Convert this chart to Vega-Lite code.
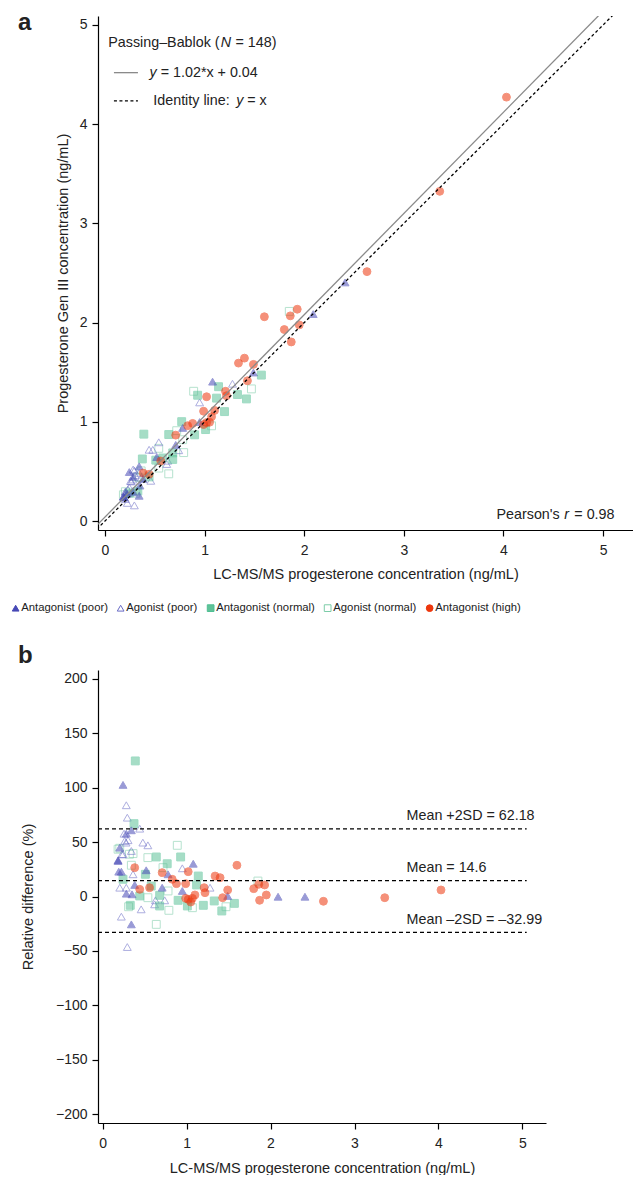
{
"$schema":"https://vega.github.io/schema/vega-lite/v6.json",
"padding":{"left":10,"top":11,"right":0,"bottom":0},
"autosize":{"type":"pad"},
"config":{"font":"Liberation Sans","view":{"stroke":null},
"axis":{"grid":false,"domainColor":"#000","tickColor":"#000","domainWidth":1.2,"tickWidth":1.2,"tickSize":6,"labelFontSize":14,"labelColor":"#222","titleFontSize":14.5,"titleFontWeight":"normal","titleColor":"#222","labelPadding":5},
"text":{"font":"Liberation Sans","fontSize":14.3,"color":"#222","baseline":"middle","align":"left"}},
"spacing":140,"bounds":"flush",
"resolve":{"legend":{"shape":"independent","fill":"independent","stroke":"independent"}},
"datasets":{
"lines":[{"k":"pb","x1":-0.2,"y1":-0.164,"x2":5.3,"y2":5.446},{"k":"id","x1":-0.2,"y1":-0.2,"x2":5.3,"y2":5.3}],
"means":[{"label":"Mean +2SD = 62.18","v":62.18},{"label":"Mean = 14.6","v":14.6},{"label":"Mean –2SD = –32.99","v":-32.99}],
"pts":[
{"g":"Agonist (normal)","lcms":0.205,"gen3":0.296,"rd":44.3},
{"g":"Agonist (normal)","lcms":0.89,"gen3":1.308,"rd":47.0},
{"g":"Agonist (normal)","lcms":0.363,"gen3":0.506,"rd":39.4},
{"g":"Agonist (normal)","lcms":0.54,"gen3":0.733,"rd":35.7},
{"g":"Agonist (normal)","lcms":0.343,"gen3":0.441,"rd":28.7},
{"g":"Agonist (normal)","lcms":0.72,"gen3":0.911,"rd":26.5},
{"g":"Agonist (normal)","lcms":1.85,"gen3":2.113,"rd":14.2},
{"g":"Agonist (normal)","lcms":0.54,"gen3":0.534,"rd":-1.1},
{"g":"Agonist (normal)","lcms":0.78,"gen3":0.820,"rd":5.1},
{"g":"Agonist (normal)","lcms":1.47,"gen3":1.332,"rd":-9.4},
{"g":"Agonist (normal)","lcms":1.07,"gen3":0.960,"rd":-10.3},
{"g":"Agonist (normal)","lcms":0.31,"gen3":0.281,"rd":-9.4},
{"g":"Agonist (normal)","lcms":0.79,"gen3":0.690,"rd":-12.7},
{"g":"Agonist (normal)","lcms":0.64,"gen3":0.476,"rd":-25.6},
{"g":"Agonist (normal)","lcms":0.185,"gen3":0.265,"rd":43.4},
{"g":"Agonist (normal)","lcms":0.32,"gen3":0.444,"rd":38.8},
{"g":"Agonist (poor)","lcms":0.283,"gen3":0.520,"rd":83.8},
{"g":"Agonist (poor)","lcms":0.295,"gen3":0.509,"rd":72.4},
{"g":"Agonist (poor)","lcms":0.256,"gen3":0.404,"rd":57.7},
{"g":"Agonist (poor)","lcms":0.443,"gen3":0.719,"rd":62.3},
{"g":"Agonist (poor)","lcms":0.304,"gen3":0.461,"rd":51.7},
{"g":"Agonist (poor)","lcms":0.264,"gen3":0.399,"rd":51.0},
{"g":"Agonist (poor)","lcms":0.48,"gen3":0.718,"rd":49.5},
{"g":"Agonist (poor)","lcms":0.54,"gen3":0.794,"rd":47.0},
{"g":"Agonist (poor)","lcms":0.244,"gen3":0.339,"rd":38.8},
{"g":"Agonist (poor)","lcms":0.343,"gen3":0.486,"rd":41.8},
{"g":"Agonist (poor)","lcms":0.95,"gen3":1.196,"rd":25.9},
{"g":"Agonist (poor)","lcms":0.363,"gen3":0.437,"rd":20.4},
{"g":"Agonist (poor)","lcms":0.205,"gen3":0.222,"rd":8.1},
{"g":"Agonist (poor)","lcms":0.283,"gen3":0.306,"rd":8.1},
{"g":"Agonist (poor)","lcms":1.28,"gen3":1.384,"rd":8.1},
{"g":"Agonist (poor)","lcms":0.63,"gen3":0.608,"rd":-3.5},
{"g":"Agonist (poor)","lcms":0.74,"gen3":0.714,"rd":-3.5},
{"g":"Agonist (poor)","lcms":0.46,"gen3":0.406,"rd":-11.8},
{"g":"Agonist (poor)","lcms":0.62,"gen3":0.575,"rd":-7.2},
{"g":"Agonist (poor)","lcms":0.224,"gen3":0.183,"rd":-18.5},
{"g":"Agonist (poor)","lcms":0.295,"gen3":0.158,"rd":-46.4},
{"g":"Agonist (poor)","lcms":0.28,"gen3":0.419,"rd":49.5},
{"g":"Agonist (poor)","lcms":0.23,"gen3":0.319,"rd":38.8},
{"g":"Antagonist (normal)","lcms":0.39,"gen3":0.876,"rd":124.5},
{"g":"Antagonist (normal)","lcms":0.375,"gen3":0.626,"rd":66.9},
{"g":"Antagonist (normal)","lcms":0.64,"gen3":0.872,"rd":36.3},
{"g":"Antagonist (normal)","lcms":0.93,"gen3":1.268,"rd":36.3},
{"g":"Antagonist (normal)","lcms":0.77,"gen3":1.002,"rd":30.1},
{"g":"Antagonist (normal)","lcms":0.51,"gen3":0.614,"rd":20.4},
{"g":"Antagonist (normal)","lcms":1.14,"gen3":1.354,"rd":18.8},
{"g":"Antagonist (normal)","lcms":0.244,"gen3":0.283,"rd":15.8},
{"g":"Antagonist (normal)","lcms":0.58,"gen3":0.636,"rd":9.6},
{"g":"Antagonist (normal)","lcms":1.12,"gen3":1.239,"rd":10.6},
{"g":"Antagonist (normal)","lcms":0.443,"gen3":0.445,"rd":0.5},
{"g":"Antagonist (normal)","lcms":0.68,"gen3":0.687,"rd":1.1},
{"g":"Antagonist (normal)","lcms":0.90,"gen3":0.869,"rd":-3.5},
{"g":"Antagonist (normal)","lcms":1.01,"gen3":0.922,"rd":-8.7},
{"g":"Antagonist (normal)","lcms":1.20,"gen3":1.103,"rd":-8.1},
{"g":"Antagonist (normal)","lcms":1.33,"gen3":1.275,"rd":-4.1},
{"g":"Antagonist (normal)","lcms":1.42,"gen3":1.231,"rd":-13.3},
{"g":"Antagonist (normal)","lcms":1.57,"gen3":1.471,"rd":-6.3},
{"g":"Antagonist (normal)","lcms":0.33,"gen3":0.303,"rd":-8.1},
{"g":"Antagonist (normal)","lcms":0.68,"gen3":0.621,"rd":-8.7},
{"g":"Antagonist (poor)","lcms":0.244,"gen3":0.494,"rd":102.5},
{"g":"Antagonist (poor)","lcms":0.343,"gen3":0.552,"rd":60.8},
{"g":"Antagonist (poor)","lcms":0.283,"gen3":0.446,"rd":57.7},
{"g":"Antagonist (poor)","lcms":0.205,"gen3":0.297,"rd":44.9},
{"g":"Antagonist (poor)","lcms":0.185,"gen3":0.247,"rd":33.3},
{"g":"Antagonist (poor)","lcms":1.08,"gen3":1.405,"rd":30.1},
{"g":"Antagonist (poor)","lcms":0.193,"gen3":0.237,"rd":22.8},
{"g":"Antagonist (poor)","lcms":0.224,"gen3":0.275,"rd":22.8},
{"g":"Antagonist (poor)","lcms":0.52,"gen3":0.645,"rd":24.1},
{"g":"Antagonist (poor)","lcms":0.78,"gen3":0.939,"rd":20.4},
{"g":"Antagonist (poor)","lcms":0.383,"gen3":0.424,"rd":10.6},
{"g":"Antagonist (poor)","lcms":0.71,"gen3":0.768,"rd":8.1},
{"g":"Antagonist (poor)","lcms":0.95,"gen3":0.998,"rd":5.1},
{"g":"Antagonist (poor)","lcms":1.49,"gen3":1.497,"rd":0.5},
{"g":"Antagonist (poor)","lcms":0.283,"gen3":0.290,"rd":2.6},
{"g":"Antagonist (poor)","lcms":0.351,"gen3":0.358,"rd":2.0},
{"g":"Antagonist (poor)","lcms":0.343,"gen3":0.255,"rd":-25.6},
{"g":"Antagonist (poor)","lcms":2.09,"gen3":2.086,"rd":-0.2},
{"g":"Antagonist (poor)","lcms":2.41,"gen3":2.405,"rd":-0.2},
{"g":"Antagonist (poor)","lcms":0.185,"gen3":0.245,"rd":32.6},
{"g":"Antagonist (high)","lcms":0.383,"gen3":0.484,"rd":26.5},
{"g":"Antagonist (high)","lcms":0.71,"gen3":0.866,"rd":21.9},
{"g":"Antagonist (high)","lcms":1.02,"gen3":1.253,"rd":22.8},
{"g":"Antagonist (high)","lcms":1.34,"gen3":1.592,"rd":18.8},
{"g":"Antagonist (high)","lcms":1.40,"gen3":1.642,"rd":17.3},
{"g":"Antagonist (high)","lcms":1.60,"gen3":2.059,"rd":28.7},
{"g":"Antagonist (high)","lcms":0.83,"gen3":0.961,"rd":15.8},
{"g":"Antagonist (high)","lcms":0.88,"gen3":0.984,"rd":11.8},
{"g":"Antagonist (high)","lcms":0.99,"gen3":1.107,"rd":11.8},
{"g":"Antagonist (high)","lcms":1.80,"gen3":1.930,"rd":7.2},
{"g":"Antagonist (high)","lcms":1.86,"gen3":2.068,"rd":11.2},
{"g":"Antagonist (high)","lcms":1.93,"gen3":2.135,"rd":10.6},
{"g":"Antagonist (high)","lcms":0.443,"gen3":0.472,"rd":6.6},
{"g":"Antagonist (high)","lcms":0.56,"gen3":0.605,"rd":8.1},
{"g":"Antagonist (high)","lcms":1.21,"gen3":1.308,"rd":8.1},
{"g":"Antagonist (high)","lcms":1.22,"gen3":1.263,"rd":3.5},
{"g":"Antagonist (high)","lcms":1.49,"gen3":1.579,"rd":6.0},
{"g":"Antagonist (high)","lcms":1.87,"gen3":1.805,"rd":-3.5},
{"g":"Antagonist (high)","lcms":1.95,"gen3":1.977,"rd":1.4},
{"g":"Antagonist (high)","lcms":1.43,"gen3":1.414,"rd":-1.1},
{"g":"Antagonist (high)","lcms":0.99,"gen3":0.973,"rd":-1.7},
{"g":"Antagonist (high)","lcms":1.02,"gen3":0.993,"rd":-2.6},
{"g":"Antagonist (high)","lcms":1.07,"gen3":1.052,"rd":-1.7},
{"g":"Antagonist (high)","lcms":1.10,"gen3":1.115,"rd":1.4},
{"g":"Antagonist (high)","lcms":1.05,"gen3":0.996,"rd":-5.1},
{"g":"Antagonist (high)","lcms":2.63,"gen3":2.514,"rd":-4.4},
{"g":"Antagonist (high)","lcms":3.36,"gen3":3.323,"rd":-1.1},
{"g":"Antagonist (high)","lcms":4.03,"gen3":4.272,"rd":6.0}
]},
"vconcat":[
{"width":535,"height":514,
"title":{"text":"a","anchor":"start","frame":"group","fontSize":24,"fontWeight":"bold","offset":0,"dx":-80,"dy":38,"baseline":"alphabetic","color":"#222"},
"layer":[
{"data":{"name":"pts"},"mark":{"type":"point","size":62,"opacity":0.55,"strokeWidth":1},
"encoding":{
"x":{"field":"lcms","type":"quantitative","scale":{"domain":[-0.07,5.3],"nice":false,"zero":false},"axis":{"values":[0,1,2,3,4,5],"format":"d","title":"LC-MS/MS progesterone concentration (ng/mL)","titlePadding":10,"labelPadding":7}},
"y":{"field":"gen3","type":"quantitative","scale":{"domain":[-0.09,5.09],"nice":false,"zero":false},"axis":{"values":[0,1,2,3,4,5],"format":"d","title":"Progesterone Gen III concentration (ng/mL)","titlePadding":9}},
"shape":{"field":"g","type":"nominal","scale":{"domain":["Antagonist (poor)","Agonist (poor)","Antagonist (normal)","Agonist (normal)","Antagonist (high)"],"range":["triangle-up","triangle-up","square","square","circle"]},"legend":{"orient":"none","legendX":-88,"legendY":586,"direction":"horizontal","title":null,"labelFontSize":11.3,"symbolSize":45,"symbolStrokeWidth":1,"symbolOpacity":1,"columnPadding":7,"labelOffset":0,"labelColor":"#222"}},
"stroke":{"field":"g","type":"nominal","scale":{"domain":["Antagonist (poor)","Agonist (poor)","Antagonist (normal)","Agonist (normal)","Antagonist (high)"],"range":["#4749b6","#6a6cc6","#4fbf93","#7ccca8","#ed370d"]},"legend":{"orient":"none","legendX":-88,"legendY":586,"direction":"horizontal","title":null,"labelFontSize":11.3,"symbolSize":45,"symbolStrokeWidth":1,"symbolOpacity":1,"columnPadding":7,"labelOffset":0,"labelColor":"#222"}},
"fill":{"field":"g","type":"nominal","scale":{"domain":["Antagonist (poor)","Agonist (poor)","Antagonist (normal)","Agonist (normal)","Antagonist (high)"],"range":["#4749b6","transparent","#5fc298","transparent","#ed370d"]},"legend":{"orient":"none","legendX":-88,"legendY":586,"direction":"horizontal","title":null,"labelFontSize":11.3,"symbolSize":45,"symbolStrokeWidth":1,"symbolOpacity":1,"columnPadding":7,"labelOffset":0,"labelColor":"#222"}}
}},
{"data":{"name":"lines"},"transform":[{"filter":"datum.k=='pb'"}],"mark":{"type":"rule","clip":true,"color":"#8a8a8a","strokeWidth":1.3},
"encoding":{"x":{"field":"x1","type":"quantitative","scale":{"domain":[-0.07,5.3],"nice":false,"zero":false},"axis":{"values":[0,1,2,3,4,5],"format":"d","title":"LC-MS/MS progesterone concentration (ng/mL)","titlePadding":10,"labelPadding":7}},"y":{"field":"y1","type":"quantitative","scale":{"domain":[-0.09,5.09],"nice":false,"zero":false},"axis":{"values":[0,1,2,3,4,5],"format":"d","title":"Progesterone Gen III concentration (ng/mL)","titlePadding":9}},"x2":{"field":"x2"},"y2":{"field":"y2"}}},
{"data":{"name":"lines"},"transform":[{"filter":"datum.k=='id'"}],"mark":{"type":"rule","clip":true,"color":"#000","strokeWidth":1.3,"strokeDash":[3,2.5]},
"encoding":{"x":{"field":"x1","type":"quantitative","scale":{"domain":[-0.07,5.3],"nice":false,"zero":false},"axis":{"values":[0,1,2,3,4,5],"format":"d","title":"LC-MS/MS progesterone concentration (ng/mL)","titlePadding":10,"labelPadding":7}},"y":{"field":"y1","type":"quantitative","scale":{"domain":[-0.09,5.09],"nice":false,"zero":false},"axis":{"values":[0,1,2,3,4,5],"format":"d","title":"Progesterone Gen III concentration (ng/mL)","titlePadding":9}},"x2":{"field":"x2"},"y2":{"field":"y2"}}},
{"data":{"values":[{}]},"mark":{"type":"rule","color":"#8a8a8a","strokeWidth":1.3},
"encoding":{"x":{"datum":0.09,"type":"quantitative","scale":{"domain":[-0.07,5.3],"nice":false,"zero":false},"axis":{"values":[0,1,2,3,4,5],"format":"d","title":"LC-MS/MS progesterone concentration (ng/mL)","titlePadding":10,"labelPadding":7}},"x2":{"datum":0.331},"y":{"datum":4.519,"type":"quantitative","scale":{"domain":[-0.09,5.09],"nice":false,"zero":false},"axis":{"values":[0,1,2,3,4,5],"format":"d","title":"Progesterone Gen III concentration (ng/mL)","titlePadding":9}}}},
{"data":{"values":[{}]},"mark":{"type":"rule","color":"#000","strokeWidth":1.3,"strokeDash":[3,2.5]},
"encoding":{"x":{"datum":0.09,"type":"quantitative","scale":{"domain":[-0.07,5.3],"nice":false,"zero":false},"axis":{"values":[0,1,2,3,4,5],"format":"d","title":"LC-MS/MS progesterone concentration (ng/mL)","titlePadding":10,"labelPadding":7}},"x2":{"datum":0.331},"y":{"datum":4.234,"type":"quantitative","scale":{"domain":[-0.09,5.09],"nice":false,"zero":false},"axis":{"values":[0,1,2,3,4,5],"format":"d","title":"Progesterone Gen III concentration (ng/mL)","titlePadding":9}}}},
{"data":{"values":[{}]},"mark":{"type":"text","text":"Passing–Bablok (","align":"right"},"encoding":{"x":{"datum":1.15,"type":"quantitative","scale":{"domain":[-0.07,5.3],"nice":false,"zero":false},"axis":{"values":[0,1,2,3,4,5],"format":"d","title":"LC-MS/MS progesterone concentration (ng/mL)","titlePadding":10,"labelPadding":7}},"y":{"datum":4.82,"type":"quantitative","scale":{"domain":[-0.09,5.09],"nice":false,"zero":false},"axis":{"values":[0,1,2,3,4,5],"format":"d","title":"Progesterone Gen III concentration (ng/mL)","titlePadding":9}}}},
{"data":{"values":[{}]},"mark":{"type":"text","text":"N","fontStyle":"italic"},"encoding":{"x":{"datum":1.163,"type":"quantitative","scale":{"domain":[-0.07,5.3],"nice":false,"zero":false},"axis":{"values":[0,1,2,3,4,5],"format":"d","title":"LC-MS/MS progesterone concentration (ng/mL)","titlePadding":10,"labelPadding":7}},"y":{"datum":4.82,"type":"quantitative","scale":{"domain":[-0.09,5.09],"nice":false,"zero":false},"axis":{"values":[0,1,2,3,4,5],"format":"d","title":"Progesterone Gen III concentration (ng/mL)","titlePadding":9}}}},
{"data":{"values":[{}]},"mark":{"type":"text","text":"= 148)"},"encoding":{"x":{"datum":1.31,"type":"quantitative","scale":{"domain":[-0.07,5.3],"nice":false,"zero":false},"axis":{"values":[0,1,2,3,4,5],"format":"d","title":"LC-MS/MS progesterone concentration (ng/mL)","titlePadding":10,"labelPadding":7}},"y":{"datum":4.82,"type":"quantitative","scale":{"domain":[-0.09,5.09],"nice":false,"zero":false},"axis":{"values":[0,1,2,3,4,5],"format":"d","title":"Progesterone Gen III concentration (ng/mL)","titlePadding":9}}}},
{"data":{"values":[{}]},"mark":{"type":"text","text":"y","fontStyle":"italic"},"encoding":{"x":{"datum":0.448,"type":"quantitative","scale":{"domain":[-0.07,5.3],"nice":false,"zero":false},"axis":{"values":[0,1,2,3,4,5],"format":"d","title":"LC-MS/MS progesterone concentration (ng/mL)","titlePadding":10,"labelPadding":7}},"y":{"datum":4.519,"type":"quantitative","scale":{"domain":[-0.09,5.09],"nice":false,"zero":false},"axis":{"values":[0,1,2,3,4,5],"format":"d","title":"Progesterone Gen III concentration (ng/mL)","titlePadding":9}}}},
{"data":{"values":[{}]},"mark":{"type":"text","text":"= 1.02*x + 0.04"},"encoding":{"x":{"datum":0.56,"type":"quantitative","scale":{"domain":[-0.07,5.3],"nice":false,"zero":false},"axis":{"values":[0,1,2,3,4,5],"format":"d","title":"LC-MS/MS progesterone concentration (ng/mL)","titlePadding":10,"labelPadding":7}},"y":{"datum":4.519,"type":"quantitative","scale":{"domain":[-0.09,5.09],"nice":false,"zero":false},"axis":{"values":[0,1,2,3,4,5],"format":"d","title":"Progesterone Gen III concentration (ng/mL)","titlePadding":9}}}},
{"data":{"values":[{}]},"mark":{"type":"text","text":"Identity line:","align":"right"},"encoding":{"x":{"datum":1.251,"type":"quantitative","scale":{"domain":[-0.07,5.3],"nice":false,"zero":false},"axis":{"values":[0,1,2,3,4,5],"format":"d","title":"LC-MS/MS progesterone concentration (ng/mL)","titlePadding":10,"labelPadding":7}},"y":{"datum":4.234,"type":"quantitative","scale":{"domain":[-0.09,5.09],"nice":false,"zero":false},"axis":{"values":[0,1,2,3,4,5],"format":"d","title":"Progesterone Gen III concentration (ng/mL)","titlePadding":9}}}},
{"data":{"values":[{}]},"mark":{"type":"text","text":"y","fontStyle":"italic"},"encoding":{"x":{"datum":1.317,"type":"quantitative","scale":{"domain":[-0.07,5.3],"nice":false,"zero":false},"axis":{"values":[0,1,2,3,4,5],"format":"d","title":"LC-MS/MS progesterone concentration (ng/mL)","titlePadding":10,"labelPadding":7}},"y":{"datum":4.234,"type":"quantitative","scale":{"domain":[-0.09,5.09],"nice":false,"zero":false},"axis":{"values":[0,1,2,3,4,5],"format":"d","title":"Progesterone Gen III concentration (ng/mL)","titlePadding":9}}}},
{"data":{"values":[{}]},"mark":{"type":"text","text":"= x"},"encoding":{"x":{"datum":1.427,"type":"quantitative","scale":{"domain":[-0.07,5.3],"nice":false,"zero":false},"axis":{"values":[0,1,2,3,4,5],"format":"d","title":"LC-MS/MS progesterone concentration (ng/mL)","titlePadding":10,"labelPadding":7}},"y":{"datum":4.234,"type":"quantitative","scale":{"domain":[-0.09,5.09],"nice":false,"zero":false},"axis":{"values":[0,1,2,3,4,5],"format":"d","title":"Progesterone Gen III concentration (ng/mL)","titlePadding":9}}}},
{"data":{"values":[{}]},"mark":{"type":"text","text":"Pearson's","align":"right"},"encoding":{"x":{"datum":4.564,"type":"quantitative","scale":{"domain":[-0.07,5.3],"nice":false,"zero":false},"axis":{"values":[0,1,2,3,4,5],"format":"d","title":"LC-MS/MS progesterone concentration (ng/mL)","titlePadding":10,"labelPadding":7}},"y":{"datum":0.06,"type":"quantitative","scale":{"domain":[-0.09,5.09],"nice":false,"zero":false},"axis":{"values":[0,1,2,3,4,5],"format":"d","title":"Progesterone Gen III concentration (ng/mL)","titlePadding":9}}}},
{"data":{"values":[{}]},"mark":{"type":"text","text":"r","fontStyle":"italic"},"encoding":{"x":{"datum":4.611,"type":"quantitative","scale":{"domain":[-0.07,5.3],"nice":false,"zero":false},"axis":{"values":[0,1,2,3,4,5],"format":"d","title":"LC-MS/MS progesterone concentration (ng/mL)","titlePadding":10,"labelPadding":7}},"y":{"datum":0.06,"type":"quantitative","scale":{"domain":[-0.09,5.09],"nice":false,"zero":false},"axis":{"values":[0,1,2,3,4,5],"format":"d","title":"Progesterone Gen III concentration (ng/mL)","titlePadding":9}}}},
{"data":{"values":[{}]},"mark":{"type":"text","text":"= 0.98"},"encoding":{"x":{"datum":4.711,"type":"quantitative","scale":{"domain":[-0.07,5.3],"nice":false,"zero":false},"axis":{"values":[0,1,2,3,4,5],"format":"d","title":"LC-MS/MS progesterone concentration (ng/mL)","titlePadding":10,"labelPadding":7}},"y":{"datum":0.06,"type":"quantitative","scale":{"domain":[-0.09,5.09],"nice":false,"zero":false},"axis":{"values":[0,1,2,3,4,5],"format":"d","title":"Progesterone Gen III concentration (ng/mL)","titlePadding":9}}}}
]},
{"width":448,"height":453,
"title":{"text":"b","anchor":"start","frame":"group","fontSize":24,"fontWeight":"bold","offset":0,"dx":-80,"dy":17,"baseline":"alphabetic","color":"#222"},
"layer":[
{"data":{"name":"pts"},"mark":{"type":"point","size":62,"opacity":0.55,"strokeWidth":1},
"encoding":{
"x":{"field":"lcms","type":"quantitative","scale":{"domain":[-0.054,5.28],"nice":false,"zero":false},"axis":{"values":[0,1,2,3,4,5],"format":"d","title":"LC-MS/MS progesterone concentration (ng/mL)","titlePadding":11,"labelPadding":7}},
"y":{"field":"rd","type":"quantitative","scale":{"domain":[-208,208],"nice":false,"zero":false},"axis":{"values":[-200,-150,-100,-50,0,50,100,150,200],"format":"d","title":"Relative difference (%)","titlePadding":20}},
"shape":{"field":"g","type":"nominal","scale":{"domain":["Antagonist (poor)","Agonist (poor)","Antagonist (normal)","Agonist (normal)","Antagonist (high)"],"range":["triangle-up","triangle-up","square","square","circle"]},"legend":null},
"stroke":{"field":"g","type":"nominal","scale":{"domain":["Antagonist (poor)","Agonist (poor)","Antagonist (normal)","Agonist (normal)","Antagonist (high)"],"range":["#4749b6","#6a6cc6","#4fbf93","#7ccca8","#ed370d"]},"legend":null},
"fill":{"field":"g","type":"nominal","scale":{"domain":["Antagonist (poor)","Agonist (poor)","Antagonist (normal)","Agonist (normal)","Antagonist (high)"],"range":["#4749b6","transparent","#5fc298","transparent","#ed370d"]},"legend":null}
}},
{"data":{"name":"means"},"mark":{"type":"rule","color":"#000","strokeWidth":1.2,"strokeDash":[4,3]},
"encoding":{"x":{"datum":-0.054,"type":"quantitative","scale":{"domain":[-0.054,5.28],"nice":false,"zero":false},"axis":{"values":[0,1,2,3,4,5],"format":"d","title":"LC-MS/MS progesterone concentration (ng/mL)","titlePadding":11,"labelPadding":7}},"x2":{"datum":5.05},"y":{"field":"v","type":"quantitative","scale":{"domain":[-208,208],"nice":false,"zero":false},"axis":{"values":[-200,-150,-100,-50,0,50,100,150,200],"format":"d","title":"Relative difference (%)","titlePadding":20}}}},
{"data":{"name":"means"},"mark":{"type":"text","dy":-12.5},
"encoding":{"x":{"datum":3.62,"type":"quantitative","scale":{"domain":[-0.054,5.28],"nice":false,"zero":false},"axis":{"values":[0,1,2,3,4,5],"format":"d","title":"LC-MS/MS progesterone concentration (ng/mL)","titlePadding":11,"labelPadding":7}},"y":{"field":"v","type":"quantitative","scale":{"domain":[-208,208],"nice":false,"zero":false},"axis":{"values":[-200,-150,-100,-50,0,50,100,150,200],"format":"d","title":"Relative difference (%)","titlePadding":20}},"text":{"field":"label"}}}
]}
]}
